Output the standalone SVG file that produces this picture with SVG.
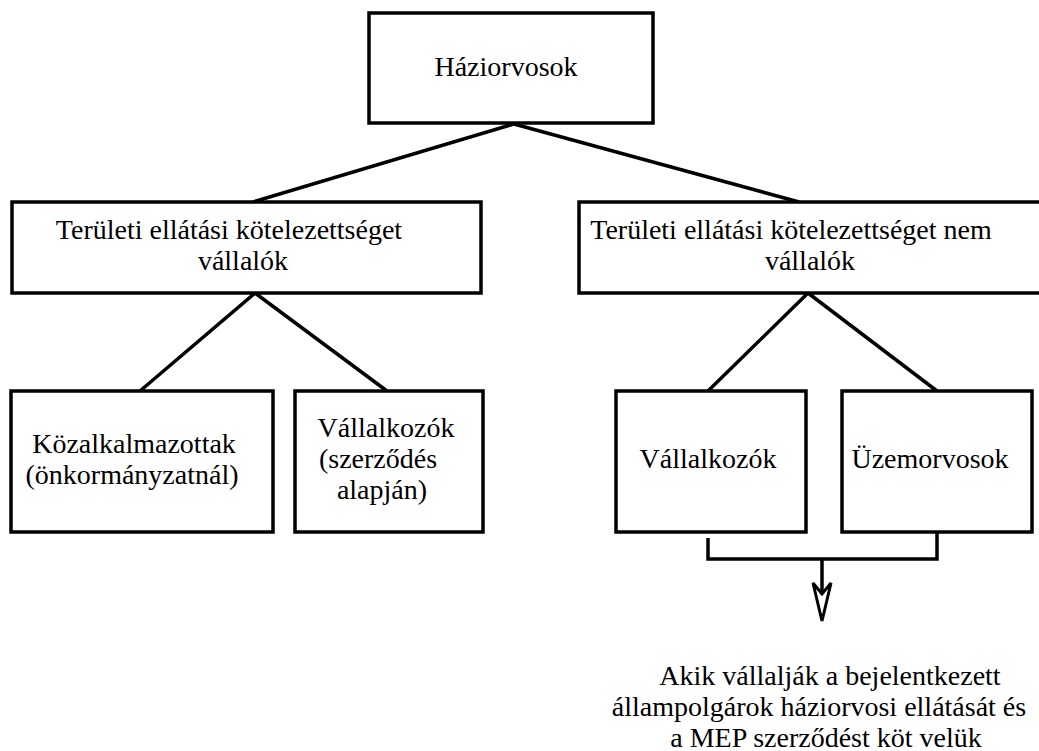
<svg xmlns="http://www.w3.org/2000/svg" width="1039" height="751" viewBox="0 0 1039 751">
<style>
.box{fill:#fff;stroke:#000;stroke-width:3.5}
.ln{fill:none;stroke:#000;stroke-width:3.5}
text{font-family:"Liberation Serif","Times New Roman",serif;font-size:28px;fill:#000;text-anchor:middle}
</style>
<rect width="1039" height="751" fill="#fff"/>
<g id="connectors">
<line class="ln" x1="514" y1="124" x2="253" y2="202"/>
<line class="ln" x1="514" y1="124" x2="799" y2="202"/>
<line class="ln" x1="255" y1="293" x2="140" y2="391"/>
<line class="ln" x1="255" y1="293" x2="387" y2="391"/>
<line class="ln" x1="808" y1="293" x2="708" y2="391"/>
<line class="ln" x1="808" y1="293" x2="937" y2="391"/>
<polyline class="ln" points="708,538 708,559 937,559 937,532"/>
<line class="ln" x1="822" y1="559" x2="822" y2="594"/>
<polygon points="813,583 822,621 831,583 822,594" fill="#fff" stroke="#000" stroke-width="3" stroke-linejoin="miter"/>
</g>
<g id="haziorvosok">
<rect class="box" x="369" y="13" width="284" height="110"/>
<text x="506" y="76">Háziorvosok</text>
</g>
<g id="vallalok">
<rect class="box" x="12" y="202" width="469" height="91"/>
<text x="229" y="239">Területi ellátási kötelezettséget</text>
<text x="243" y="270">vállalók</text>
</g>
<g id="nem-vallalok">
<rect class="box" x="579" y="202" width="470" height="91"/>
<text x="791" y="239">Területi ellátási kötelezettséget nem</text>
<text x="810" y="270">vállalók</text>
</g>
<g id="kozalkalmazottak">
<rect class="box" x="11" y="391" width="262" height="141"/>
<text x="134" y="453">Közalkalmazottak</text>
<text x="132" y="484">(önkormányzatnál)</text>
</g>
<g id="vallalkozok-szerzodes">
<rect class="box" x="295" y="391" width="188" height="141"/>
<text x="386" y="437">Vállalkozók</text>
<text x="378" y="468">(szerződés</text>
<text x="382" y="499">alapján)</text>
</g>
<g id="vallalkozok">
<rect class="box" x="616" y="391" width="190" height="141"/>
<text x="708" y="468">Vállalkozók</text>
</g>
<g id="uzemorvosok">
<rect class="box" x="842" y="391" width="190" height="141"/>
<text x="930" y="468">Üzemorvosok</text>
</g>
<g id="akik">
<text x="830" y="685">Akik vállalják a bejelentkezett</text>
<text x="819" y="716">állampolgárok háziorvosi ellátását és</text>
<text x="826" y="747">a MEP szerződést köt velük</text>
</g>
</svg>
